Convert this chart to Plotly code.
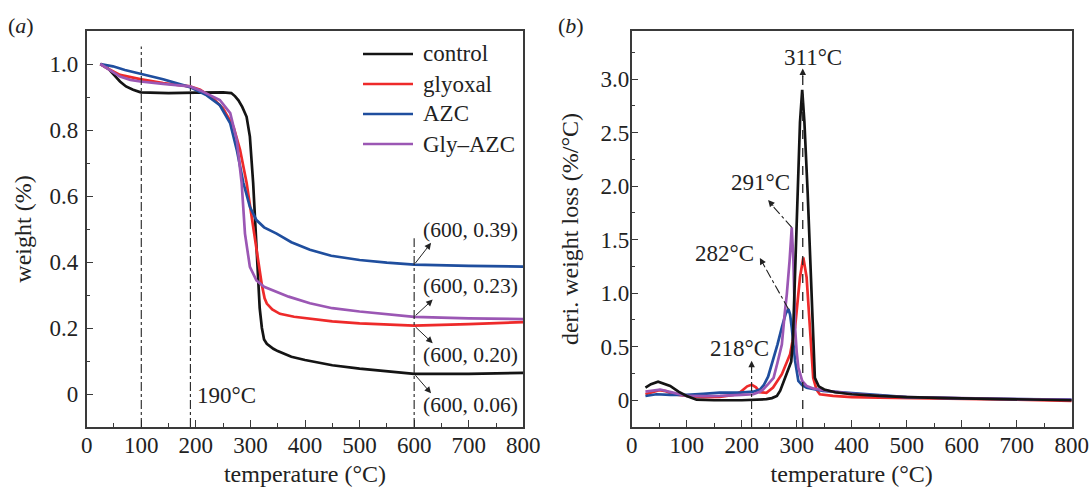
import numpy as np
import plotly.graph_objects as go

# ---------------- data ----------------
series_names = ["control", "glyoxal", "AZC", "Gly–AZC"]
series_colors = ["#141414", "#ee2a2a", "#1f4e9e", "#9b57b4"]

# (a) TGA weight fraction
tga_T_control = [25, 40, 50, 61, 72, 85, 99, 150, 200, 250, 265, 272, 278, 285, 293, 299, 305, 311, 317, 321, 325, 330,
                 342, 350, 375, 400, 450, 500, 550, 600, 700, 800]
tga_W_control = [1.0, 0.985, 0.967, 0.947, 0.932, 0.922, 0.914, 0.912, 0.913, 0.914, 0.912, 0.902, 0.89, 0.87, 0.84,
                 0.78, 0.64, 0.45, 0.26, 0.2, 0.165, 0.152, 0.137, 0.13, 0.113, 0.103, 0.087, 0.077, 0.068, 0.061,
                 0.061, 0.064]

tga_T_glyoxal = [25, 40, 61, 80, 98, 140, 189, 208, 232, 250, 269, 281, 293, 302, 311, 317, 321, 326, 330, 340, 354,
                 380, 409, 450, 500, 550, 600, 700, 800]
tga_W_glyoxal = [1.0, 0.985, 0.967, 0.96, 0.954, 0.942, 0.932, 0.922, 0.895, 0.865, 0.81, 0.74, 0.64, 0.54, 0.44,
                 0.37, 0.33, 0.29, 0.274, 0.256, 0.243, 0.234, 0.228, 0.22, 0.214, 0.21, 0.207, 0.212, 0.218]

tga_T_azc = [25, 48, 70, 98, 140, 189, 208, 220, 244, 263, 275, 287, 299, 311, 325, 348, 375, 409, 448, 500, 550, 600,
             700, 800]
tga_W_azc = [1.0, 0.993, 0.982, 0.97, 0.954, 0.93, 0.915, 0.905, 0.875, 0.82, 0.74, 0.64, 0.567, 0.527, 0.505, 0.486,
             0.46, 0.437, 0.419, 0.406, 0.398, 0.392, 0.388, 0.386]

tga_T_glyazc = [25, 40, 61, 80, 98, 140, 189, 208, 244, 263, 275, 284, 290, 299, 311, 325, 342, 370, 409, 450, 500,
                550, 600, 700, 800]
tga_W_glyazc = [1.0, 0.985, 0.962, 0.952, 0.947, 0.94, 0.932, 0.92, 0.891, 0.851, 0.77, 0.638, 0.486, 0.385, 0.344,
                0.325, 0.314, 0.295, 0.275, 0.26, 0.25, 0.242, 0.234, 0.229, 0.227]

# (b) DTG derivative weight loss
dtg_T_control = [25, 35, 48, 60, 70, 85, 100, 118, 150, 200, 245, 255, 264, 270, 278, 285, 290, 293, 297, 301, 306,
                 310, 314, 320, 325, 329, 333, 340, 350, 370, 400, 450, 500, 600, 700, 800]
dtg_V_control = [0.118, 0.15, 0.174, 0.155, 0.134, 0.08, 0.04, 0.005, 0.0, 0.0, 0.01, 0.02, 0.04, 0.09, 0.2, 0.29,
                 0.36, 0.55, 1.2, 1.93, 2.6, 2.9, 2.6, 1.93, 1.3, 0.68, 0.21, 0.13, 0.1, 0.075, 0.056, 0.04, 0.03,
                 0.018, 0.008, 0.0]

dtg_T_glyoxal = [25, 35, 50, 62, 76, 100, 130, 160, 185, 197, 210, 218, 226, 233, 245, 257, 273, 288, 297, 306, 312,
                 318, 324, 330, 336, 342, 366, 400, 450, 500, 600, 700, 800]
dtg_V_glyoxal = [0.056, 0.07, 0.094, 0.085, 0.056, 0.04, 0.03, 0.031, 0.05, 0.075, 0.13, 0.145, 0.12, 0.075, 0.07,
                 0.118, 0.243, 0.43, 0.68, 1.15, 1.335, 1.15, 0.68, 0.21, 0.1, 0.056, 0.04, 0.03, 0.025, 0.022,
                 0.012, 0.005, -0.005]

dtg_T_azc = [25, 45, 70, 100, 130, 160, 197, 221, 233, 240, 248, 257, 265, 273, 280, 285, 288, 291, 297, 303, 310,
             318, 333, 348, 370, 400, 450, 500, 600, 700, 800]
dtg_V_azc = [0.04, 0.056, 0.05, 0.05, 0.06, 0.071, 0.071, 0.08, 0.1, 0.14, 0.22, 0.37, 0.52, 0.68, 0.81, 0.852, 0.8,
             0.68, 0.37, 0.18, 0.14, 0.118, 0.1, 0.087, 0.078, 0.068, 0.045, 0.03, 0.018, 0.01, 0.005]

dtg_T_glyazc = [25, 40, 52, 75, 100, 130, 160, 200, 221, 233, 239, 248, 258, 265, 273, 278, 282, 287, 291, 294, 297,
                300, 303, 310, 318, 330, 342, 360, 400, 450, 500, 600, 700, 800]
dtg_V_glyazc = [0.08, 0.09, 0.1, 0.071, 0.04, 0.038, 0.04, 0.05, 0.056, 0.08, 0.1, 0.15, 0.21, 0.35, 0.52, 0.8, 0.99,
                1.3, 1.616, 1.3, 0.68, 0.45, 0.305, 0.18, 0.134, 0.11, 0.1, 0.085, 0.06, 0.04, 0.03, 0.018, 0.01,
                0.003]

# reference temperatures marked in the figure
tga_marks = [100, 190, 600]
residue_T = 600
residue_labels = ["(600, 0.39)", "(600, 0.23)", "(600, 0.20)", "(600, 0.06)"]
peak_T = {"control": 311, "Gly–AZC": 291, "AZC": 282, "glyoxal": 218}

x_ticks = list(range(0, 801, 100))
ya_ticks = [0, 0.2, 0.4, 0.6, 0.8, 1.0]
ya_text = ["0", "0.2", "0.4", "0.6", "0.8", "1.0"]
yb_ticks = [0, 0.5, 1.0, 1.5, 2.0, 2.5, 3.0]
yb_text = ["0", "0.5", "1.0", "1.5", "2.0", "2.5", "3.0"]

# ---------------- figure ----------------
FONT = "Liberation Serif"
TXT = "#222"
W, H = 1092, 488
MT, MB = 31, 61
PH = H - MT - MB


def py2paper(py):
    return 1 - (py - MT) / PH


fig = go.Figure()

tga = [(tga_T_control, tga_W_control), (tga_T_glyoxal, tga_W_glyoxal),
       (tga_T_azc, tga_W_azc), (tga_T_glyazc, tga_W_glyazc)]
dtg = [(dtg_T_control, dtg_V_control), (dtg_T_glyoxal, dtg_V_glyoxal),
       (dtg_T_azc, dtg_V_azc), (dtg_T_glyazc, dtg_V_glyazc)]

for (t, w), name, col in zip(tga, series_names, series_colors):
    fig.add_trace(go.Scatter(x=t, y=w, mode="lines", name=name, line=dict(color=col, width=2.7),
                             xaxis="x", yaxis="y", showlegend=False))
# DTG: draw control last so its peak is on top
dtg_order = [1, 2, 3, 0]
for i in dtg_order:
    t, v = dtg[i]
    fig.add_trace(go.Scatter(x=t, y=v, mode="lines", name=series_names[i],
                             line=dict(color=series_colors[i], width=2.7),
                             xaxis="x2", yaxis="y2", showlegend=False))

axis_common = dict(showline=True, linecolor="#3a3a3a", linewidth=1.5, mirror=True, ticks="inside", ticklen=7,
                   tickwidth=1.2, tickcolor="#3a3a3a", showgrid=False, zeroline=False, automargin=False,
                   tickfont=dict(family=FONT, size=23, color=TXT))
minor_x = dict(tickmode="linear", tick0=0, dtick=50, ticks="inside", ticklen=4, tickcolor="#3a3a3a")
title_font = dict(family=FONT, size=24, color=TXT)

xl = [86.7 / W, 523.3 / W]
xr = [631.7 / W, 1071.7 / W]

fig.update_layout(
    template="plotly_white",
    width=W, height=H,
    margin=dict(l=0, r=0, t=MT, b=MB, autoexpand=False),
    paper_bgcolor="white", plot_bgcolor="white",
    font=dict(family=FONT, size=22, color=TXT),
    xaxis=dict(domain=xl, range=[0, 800], tickmode="array", tickvals=x_ticks, anchor="y", minor=minor_x,
               ticklabelstandoff=-3,
               title=dict(text="temperature (°C)", font=title_font, standoff=8),
               **axis_common),
    yaxis=dict(domain=[0, 1], range=[-0.1, 1.1], tickmode="array", tickvals=ya_ticks, ticktext=ya_text,
               anchor="x", ticklabelstandoff=2,
               minor=dict(tickmode="linear", tick0=0, dtick=0.1, ticks="inside", ticklen=4, tickcolor="#3a3a3a"),
               title=dict(text="weight (%)", font=title_font, standoff=11),
               **axis_common),
    xaxis2=dict(domain=xr, range=[0, 800], tickmode="array", tickvals=x_ticks, anchor="y2", minor=minor_x,
                ticklabelstandoff=-3,
                title=dict(text="temperature (°C)", font=title_font, standoff=8),
                **axis_common),
    yaxis2=dict(domain=[0, 1], range=[-0.25, 3.45], tickmode="array", tickvals=yb_ticks, ticktext=yb_text,
                anchor="x2", ticklabelstandoff=-4,
                minor=dict(tickmode="linear", tick0=0, dtick=0.25, ticks="inside", ticklen=4, tickcolor="#3a3a3a"),
                title=dict(text="deri. weight loss (%/°C)", font=title_font, standoff=15),
                **axis_common),
    showlegend=False,
)

shapes = []
annots = []

# legend (drawn in panel a)
leg_py = [54, 84, 114, 144]
for name, col, py in zip(series_names, series_colors, leg_py):
    yp = py2paper(py)
    shapes.append(dict(type="line", xref="paper", yref="paper", x0=363 / W, x1=413 / W, y0=yp, y1=yp,
                       line=dict(color=col, width=2.7)))
    annots.append(dict(xref="paper", yref="paper", x=421 / W, y=yp, text=name, showarrow=False,
                       xanchor="left", yanchor="middle", font=dict(family=FONT, size=23, color=TXT)))

# (a) vertical dash-dot marker lines
mark_tops = {100: 1.053, 190: 0.967, 600: 0.472}
for m in tga_marks:
    shapes.append(dict(type="line", xref="x", yref="y", x0=m, x1=m, y0=-0.1, y1=mark_tops[m],
                       line=dict(color=TXT, width=1.1, dash="dashdot")))

annots.append(dict(xref="x", yref="y", x=199, y=-0.005, text="190°C", showarrow=False, xanchor="left",
                   yanchor="middle", font=dict(family=FONT, size=23, color=TXT)))

# (a) residue arrows + labels
res_vals = [float(np.interp(residue_T, t, w)) for t, w in [tga[2], tga[3], tga[1], tga[0]]]
head_pos = [(631, 0.458), (634, 0.286), (634, 0.154), (631, 0.002)]
text_y = [0.497, 0.326, 0.118, -0.033]
for rv, (hx, hy), ty, lab in zip(res_vals, head_pos, text_y, residue_labels):
    annots.append(dict(xref="x", yref="y", axref="x", ayref="y", x=hx, y=hy, ax=residue_T, ay=rv, text="",
                       showarrow=True, arrowhead=2, arrowsize=1.3, arrowwidth=1, arrowcolor=TXT))
    annots.append(dict(xref="x", yref="y", x=703, y=ty, text=lab, showarrow=False, xanchor="center",
                       yanchor="middle", font=dict(family=FONT, size=21.5, color=TXT)))


# (b) peak markers
def arrow_head(x, y, ux, uy, xref="x2", yref="y2"):
    L = 10
    return dict(xref=xref, yref=yref, x=x, y=y, ax=-ux * L, ay=uy * L, text="", showarrow=True,
                arrowhead=2, arrowsize=1.3, arrowwidth=1, arrowcolor=TXT)


def label(x, y, text):
    return dict(xref="x2", yref="y2", x=x, y=y, text=text, showarrow=False, xanchor="center",
                yanchor="middle", font=dict(family=FONT, size=23, color=TXT))


# 311 °C (dashed vertical)
shapes.append(dict(type="line", xref="x2", yref="y2", x0=peak_T["control"], x1=peak_T["control"], y0=-0.25, y1=3.05,
                   line=dict(color=TXT, width=1.3, dash="dash")))
annots.append(arrow_head(peak_T["control"], 3.1, 0, 1))
annots.append(label(330, 3.2, "311°C"))

# 291 °C
p291 = float(np.interp(peak_T["Gly–AZC"], dtg_T_glyazc, dtg_V_glyazc))
shapes.append(dict(type="line", xref="x2", yref="y2", x0=peak_T["Gly–AZC"], y0=p291, x1=250, y1=1.85,
                   line=dict(color=TXT, width=1.1, dash="dashdot")))
annots.append(arrow_head(248, 1.87, -0.66, 0.75))
annots.append(label(234, 2.03, "291°C"))

# 282 °C
p282 = float(np.interp(285, dtg_T_azc, dtg_V_azc))
shapes.append(dict(type="line", xref="x2", yref="y2", x0=285, y0=p282, x1=235, y1=1.31,
                   line=dict(color=TXT, width=1.1, dash="dashdot")))
annots.append(arrow_head(233, 1.33, -0.48, 0.88))
annots.append(label(169, 1.375, "282°C"))

# 218 °C
shapes.append(dict(type="line", xref="x2", yref="y2", x0=peak_T["glyoxal"], x1=peak_T["glyoxal"], y0=-0.25,
                   y1=0.34, line=dict(color=TXT, width=1.1, dash="dashdot")))
annots.append(arrow_head(peak_T["glyoxal"], 0.37, 0, 1))
annots.append(label(196, 0.485, "218°C"))

# panel letters
annots.append(dict(xref="paper", yref="paper", x=21 / W, y=py2paper(25), text="(<i>a</i>)", xanchor="center",
                   yanchor="middle", showarrow=False, font=dict(family=FONT, size=22, color=TXT)))
annots.append(dict(xref="paper", yref="paper", x=571 / W, y=py2paper(25), text="(<i>b</i>)", xanchor="center",
                   yanchor="middle", showarrow=False, font=dict(family=FONT, size=22, color=TXT)))

fig.update_layout(shapes=shapes, annotations=annots)
fig.write_html("out.html")
